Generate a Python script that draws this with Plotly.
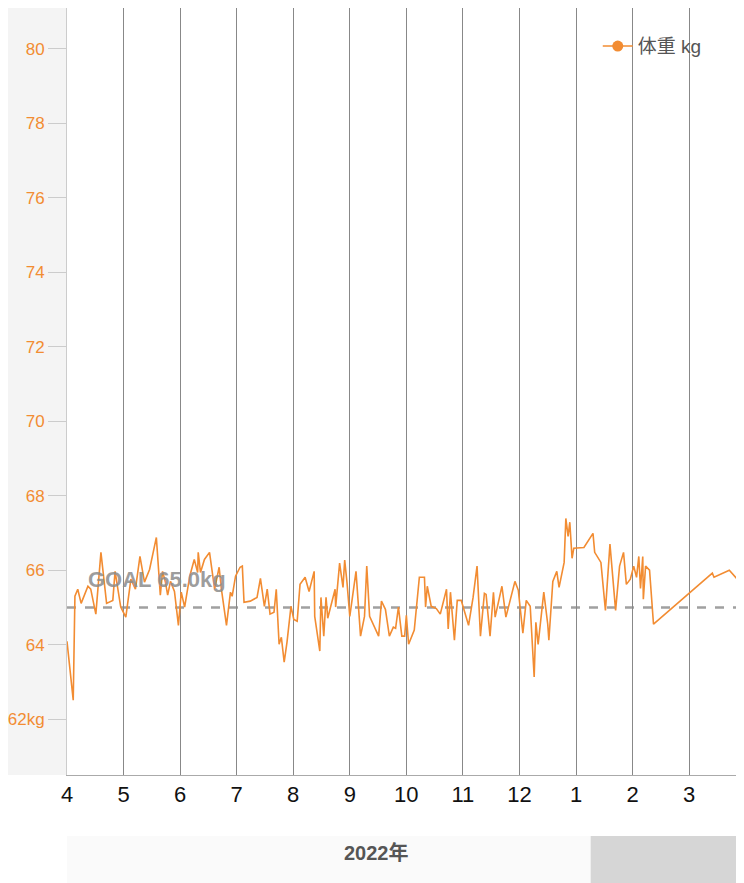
import plotly.graph_objects as go

# x: months elapsed since 2022-04-01 (month gridlines are evenly spaced)
months = [0.00,0.11,0.14,0.19,0.25,0.37,0.42,0.51,0.60,0.70,0.81,0.85,0.95,1.04,1.13,1.21,1.29,1.37,1.46,1.58,1.65,1.69,1.74,1.78,1.83,1.90,1.97,2.02,2.08,2.17,2.25,2.31,2.32,2.36,2.43,2.52,2.61,2.69,2.73,2.82,2.89,2.92,2.98,3.06,
          3.10,3.13,3.24,3.36,3.42,3.49,3.54,3.59,3.66,3.70,3.75,3.79,3.84,3.89,3.96,4.01,4.07,4.12,4.21,4.28,4.37,4.38,4.47,4.49,4.54,4.58,4.61,4.74,4.75,4.82,4.88,4.91,4.95,5.00,5.11,5.19,5.26,5.30,5.35,5.51,5.56,5.63,5.70,5.77,5.81,5.86,5.92,
          5.97,6.00,6.04,6.14,6.23,6.32,6.34,6.37,6.44,6.53,6.60,6.71,6.74,6.78,6.85,6.90,6.97,7.10,7.18,7.25,7.31,7.38,7.41,7.48,7.54,7.57,7.69,7.76,7.92,7.98,8.06,8.12,8.19,8.26,8.29,8.33,8.43,8.50,8.52,8.59,8.66,8.70,8.79,8.82,8.86,8.89,8.93,8.96,9.08,
          9.14,9.30,9.33,9.44,9.52,9.60,9.70,9.77,9.84,9.89,9.96,10.02,10.07,10.11,10.14,10.18,10.19,10.23,10.30,10.37,11.41,11.44,11.71,11.85,11.94,11.95]
weight = [64.09,62.51,65.30,65.49,65.11,65.57,65.49,64.82,66.48,65.11,65.19,65.97,65.01,64.74,65.76,65.49,66.37,65.68,66.02,66.88,65.33,65.97,65.68,65.33,65.70,65.43,64.52,65.41,65.01,65.84,66.29,65.94,66.48,65.94,66.29,66.48,65.49,66.08,65.49,64.52,65.41,65.30,65.84,66.08,
          66.11,65.14,65.17,65.27,65.78,65.03,65.49,64.82,64.87,65.49,64.01,64.20,63.53,64.07,65.03,64.68,64.63,65.62,65.81,65.43,65.97,64.76,63.83,65.27,64.23,65.27,64.71,65.49,65.01,66.19,65.54,66.27,65.68,64.76,65.97,64.23,64.76,66.11,64.76,64.23,65.17,64.95,64.23,64.47,64.44,65.01,64.23,
          64.23,64.79,64.01,64.39,65.81,65.81,65.01,65.57,65.03,64.97,64.82,65.49,64.42,65.41,64.12,65.19,65.19,64.52,65.27,66.11,64.23,65.38,65.35,64.23,65.41,64.74,65.57,64.74,65.70,65.46,64.31,65.19,65.03,63.13,64.60,64.01,65.41,64.55,64.12,65.70,65.97,65.54,66.21,67.39,66.91,67.29,66.32,66.59,66.61,
          66.61,66.99,66.48,66.21,64.92,66.70,64.92,66.11,66.48,65.62,65.76,66.11,65.81,66.37,65.51,66.37,65.22,66.11,66.00,64.55,65.92,65.81,66.00,65.76,65.41,66.37]

month_ticks = list(range(12))
month_labels = ["4","5","6","7","8","9","10","11","12","1","2","3"]
y_ticks = [62,64,66,68,70,72,74,76,78,80]
y_labels = ["62kg","64","66","68","70","72","74","76","78","80"]
goal = 65.0
year_label = "2022年"
legend_name = "体重 kg"

orange = "#f28c32"
fig = go.Figure()
fig.add_trace(go.Scatter(x=months, y=weight, mode="lines", line=dict(color=orange, width=1.6),
                         showlegend=False, hoverinfo="skip"))
fig.add_trace(go.Scatter(x=[None], y=[None], mode="lines+markers", name=legend_name,
                         line=dict(color=orange, width=1.6), marker=dict(color=orange, size=11)))

plot_w = 680
fig.add_shape(type="rect", xref="paper", yref="paper", x0=-64/plot_w, x1=0, y0=0, y1=1,
              fillcolor="#f4f4f4", line_width=0, layer="below")
fig.add_shape(type="rect", xref="paper", yref="paper", x0=0, x1=526/plot_w, y0=-0.1408, y1=-0.0795,
              fillcolor="#fafafa", line_width=0)
fig.add_shape(type="rect", xref="paper", yref="paper", x0=526/plot_w, x1=1, y0=-0.1408, y1=-0.0795,
              fillcolor="#d6d6d6", line_width=0)
fig.add_shape(type="line", xref="paper", yref="y", x0=0, x1=1, y0=goal, y1=goal,
              line=dict(color="#a0a0a0", width=2.5, dash="dash"), layer="below")
fig.add_annotation(xref="paper", yref="y", x=19/plot_w, y=goal + 0.76, xanchor="left", yanchor="middle",
                   text=f"<b>GOAL {goal:.1f}kg</b>", showarrow=False,
                   font=dict(size=22, color="rgba(140,140,140,0.85)", family="Liberation Sans"))
fig.add_annotation(xref="paper", yref="paper", x=0.457, y=-0.1186, text=f"<b>{year_label}</b>",
                   showarrow=False, font=dict(size=20, color="#555", family="Liberation Sans, Noto Sans CJK JP"))

fig.update_layout(
    width=736, height=875, margin=dict(l=56, r=0, t=0, b=108),
    paper_bgcolor="white", plot_bgcolor="white",
    font=dict(family="Liberation Sans, Noto Sans CJK JP"),
    legend=dict(x=0.945, xanchor="right", y=0.975, yanchor="top", bgcolor="rgba(0,0,0,0)",
                font=dict(size=19, color="#555"), itemwidth=30),
    xaxis=dict(range=[0, 11.97], tickvals=month_ticks, ticktext=month_labels,
               showgrid=True, gridcolor="#888", gridwidth=1, zeroline=False,
               showline=True, linecolor="#aaa", ticks="", tickfont=dict(size=22, color="#111")),
    yaxis=dict(range=[60.5, 81.1], tickvals=y_ticks, ticktext=y_labels, showgrid=False, zeroline=False,
               showline=True, linecolor="#ccc", ticks="outside", ticklen=18, tickcolor="#ccc",
               tickfont=dict(size=17, color=orange)),
)
fig.write_html("out.html")
